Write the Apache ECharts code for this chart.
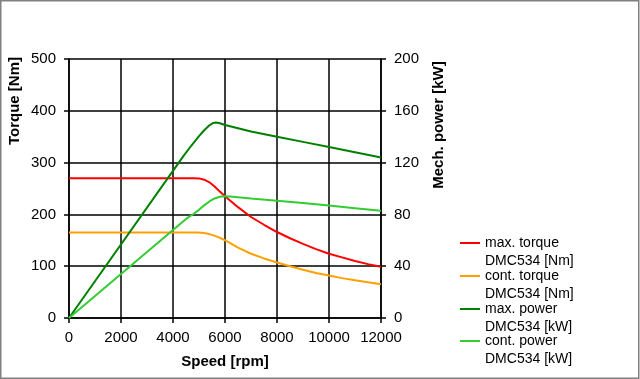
<!DOCTYPE html>
<html>
<head>
<meta charset="utf-8">
<script src="https://cdn.jsdelivr.net/npm/echarts@6/dist/echarts.min.js"></script>
<style>
html,body{margin:0;padding:0;background:#fff;}
#chart{width:640px;height:379px;}
</style>
</head>
<body>
<div id="chart"></div>
<script>
// ---- data ----
var speedTicks = [0, 2000, 4000, 6000, 8000, 10000, 12000];
var torqueTicks = [0, 100, 200, 300, 400, 500];
var powerTicks = [0, 40, 80, 120, 160, 200];

var maxTorqueSpeed = [0, 4800, 5000, 5200, 5400, 5600, 5800, 6000, 6500, 7000, 7500, 8000, 8500, 9000, 9500, 10000, 10500, 11000, 11500, 12000];
var maxTorque      = [270, 270, 269.5, 267, 262, 254, 244, 235, 214, 195, 180, 166, 154, 143, 133, 124, 117, 110, 104, 99];

var contTorqueSpeed = [0, 4900, 5100, 5300, 5500, 5700, 5900, 6100, 6500, 7000, 7500, 8000, 8500, 9000, 9500, 10000, 10500, 11000, 11500, 12000];
var contTorque      = [165, 165, 164.5, 163, 160.5, 157, 152.5, 147.5, 136, 124, 115, 107, 100, 93, 87, 82, 77, 73, 69, 65];

var maxPowerSpeed = [0, 4400, 4700, 5000, 5200, 5400, 5550, 5650, 5800, 6000, 6500, 7000, 8000, 9000, 10000, 11000, 12000];
var maxPower      = [0, 125, 133, 140.5, 145, 148.8, 150.6, 151, 150.4, 149, 146.5, 144, 140, 136, 132, 128, 124];

var contPowerSpeed = [0, 4500, 4800, 5000, 5200, 5400, 5600, 5800, 6000, 6200, 6500, 7000, 8000, 9000, 10000, 11000, 12000];
var contPower      = [0, 76.5, 80.5, 83.5, 87, 90, 92.3, 93.6, 94, 93.8, 93.3, 92.3, 90.6, 88.8, 86.8, 84.8, 82.8];

var seriesNames = ['max. torque DMC534 [Nm]', 'cont. torque DMC534 [Nm]', 'max. power DMC534 [kW]', 'cont. power DMC534 [kW]'];
var seriesColors = ['#ff0000', '#ffa000', '#008000', '#33cc33'];

function pairs(xs, ys) { return xs.map(function (x, i) { return [x, ys[i]]; }); }

var FONT = '"Liberation Sans", Arial, sans-serif';
var chart = echarts.init(document.getElementById('chart'));

function makeLegend(i, top) {
  return {
    data: [seriesNames[i]],
    left: 460, top: top, padding: 0,
    orient: 'vertical',
    icon: 'rect', itemWidth: 20, itemHeight: 2,
    selectedMode: false,
    formatter: function (n) { return ' \n' + n.replace(' DMC', '\nDMC'); },
    textStyle: { fontFamily: FONT, fontSize: 14, color: '#000', lineHeight: 18 }
  };
}

var lineStyleCommon = { width: 2 };
function lineSeries(i, axis, xs, ys) {
  return { name: seriesNames[i], type: 'line', yAxisIndex: axis, data: pairs(xs, ys), smooth: false, showSymbol: false, color: seriesColors[i], lineStyle: lineStyleCommon, z: 5 };
}

var option = {
  animation: false,
  backgroundColor: '#fff',
  grid: { left: 69, right: 259, top: 59, bottom: 61, containLabel: false },
  legend: [makeLegend(0, 216), makeLegend(1, 249), makeLegend(2, 282), makeLegend(3, 314)],
  xAxis: {
    type: 'value', min: speedTicks[0], max: speedTicks[speedTicks.length - 1], interval: 2000,
    name: 'Speed [rpm]', nameLocation: 'middle', nameGap: 36,
    nameTextStyle: { fontFamily: FONT, fontSize: 15, fontWeight: 'bold', color: '#000' },
    axisLine: { lineStyle: { color: '#000', width: 1.5 } },
    axisTick: { show: true, length: 5, lineStyle: { color: '#000', width: 1.5 } },
    axisLabel: { fontFamily: FONT, fontSize: 15, color: '#000', margin: 12, formatter: function (v) { return String(v); } },
    splitLine: { show: true, lineStyle: { color: '#000', width: 1.5 } }
  },
  yAxis: [{
    type: 'value', min: torqueTicks[0], max: torqueTicks[torqueTicks.length - 1], interval: 100,
    axisLine: { show: true, lineStyle: { color: '#000', width: 1.5 } },
    axisTick: { show: true, length: 5, lineStyle: { color: '#000', width: 1.5 } },
    axisLabel: { fontFamily: FONT, fontSize: 15, color: '#000', margin: 13 },
    splitLine: { show: true, lineStyle: { color: '#000', width: 1.5 } }
  }, {
    type: 'value', position: 'right', min: powerTicks[0], max: powerTicks[powerTicks.length - 1], interval: 40,
    axisLine: { show: true, lineStyle: { color: '#000', width: 1.5 } },
    axisTick: { show: true, length: 5, lineStyle: { color: '#000', width: 1.5 } },
    axisLabel: { fontFamily: FONT, fontSize: 15, color: '#000', margin: 13 },
    splitLine: { show: false }
  }],
  series: [
    lineSeries(0, 0, maxTorqueSpeed, maxTorque),
    lineSeries(1, 0, contTorqueSpeed, contTorque),
    lineSeries(2, 1, maxPowerSpeed, maxPower),
    lineSeries(3, 1, contPowerSpeed, contPower)
  ],
  graphic: [
    { type: 'rect', silent: true, shape: { x: 0.75, y: 0.75, width: 638, height: 377.5 }, style: { fill: 'none', stroke: '#808080', lineWidth: 1.5 } },
    { type: 'text', x: 15, y: 101, rotation: Math.PI / 2, style: { text: 'Torque [Nm]', fontFamily: FONT, fontSize: 15, fontWeight: 'bold', fill: '#000', align: 'center', verticalAlign: 'middle' } },
    { type: 'text', x: 439, y: 125, rotation: Math.PI / 2, style: { text: 'Mech. power [kW]', fontFamily: FONT, fontSize: 15, fontWeight: 'bold', fill: '#000', align: 'center', verticalAlign: 'middle' } }
  ]
};
chart.setOption(option);
</script>
</body>
</html>
